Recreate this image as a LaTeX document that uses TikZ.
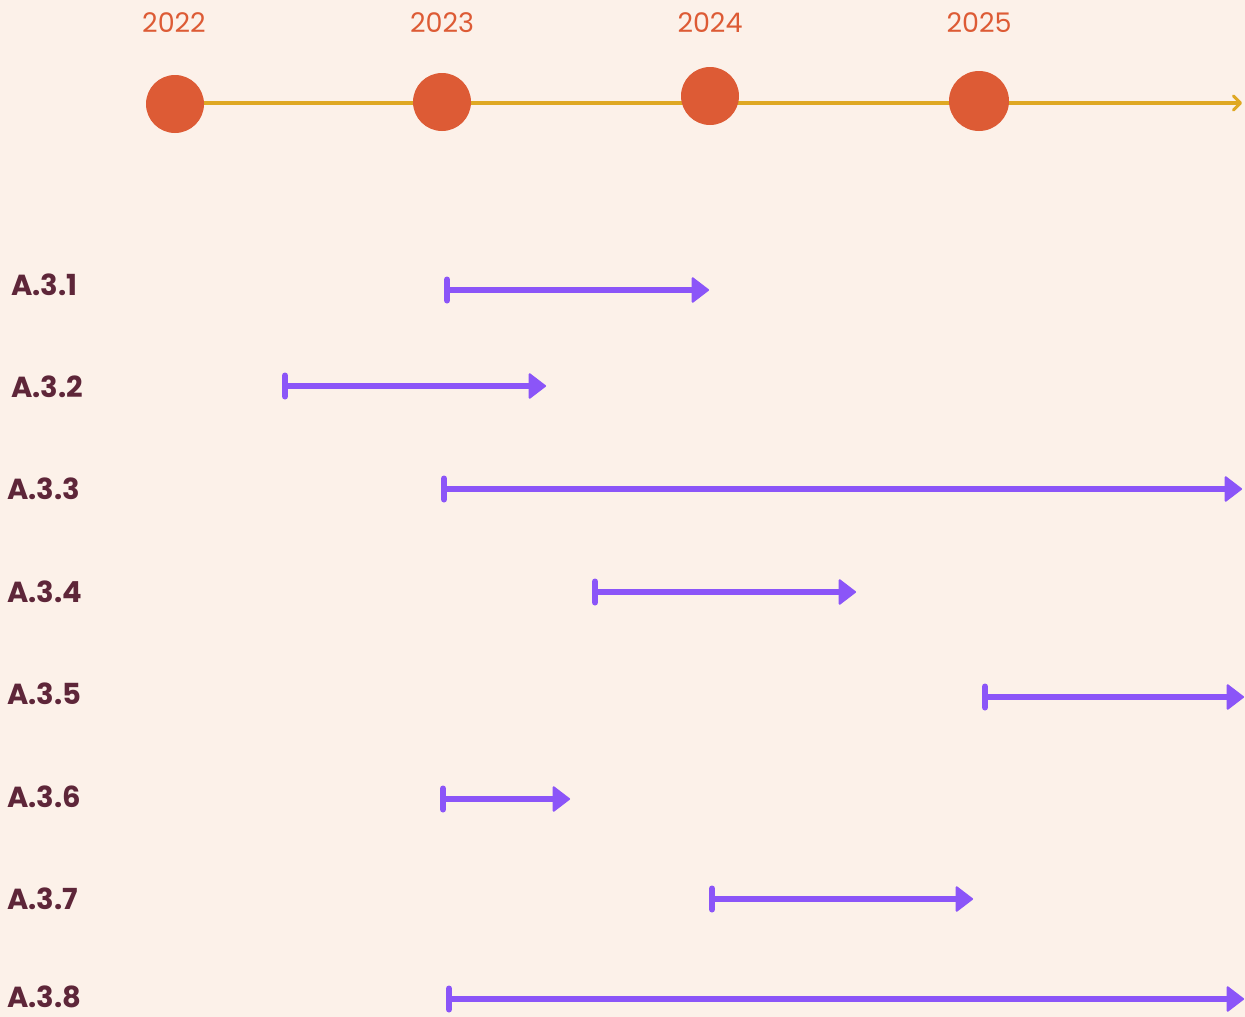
\documentclass[tikz,border=0pt]{standalone}
\usepackage{fontspec}
\setmainfont{Poppins}
\usetikzlibrary{arrows.meta,backgrounds}
\definecolor{bgc}{HTML}{FCF1E9}
\definecolor{dot}{HTML}{DD5B35}
\definecolor{gold}{HTML}{DFA823}
\definecolor{purp}{HTML}{8B55F8}
\definecolor{lab}{HTML}{5E2639}
\tikzset{
  yeardot/.style={circle,fill=dot,minimum size=#1,inner sep=0pt},
  yearlabel/.style={text=dot,font=\fontsize{27}{30}\selectfont,inner sep=0pt},
  rowlabel/.style={text=lab,font=\fontsize{29}{32}\selectfont\bfseries,inner sep=0pt,anchor=west},
  bararrow/.style={draw=purp,line width=6pt,{Bar[width=21pt,line width=6pt,round]}-{Triangle[length=18pt,width=27pt,round,line width=2pt]}},
  timeline/.style={draw=gold,line width=3.5pt,-{Straight Barb[length=7pt,width=14pt,line width=3pt,round]}}
}
\begin{document}
\begin{tikzpicture}[x=1pt,y=-1pt]
\useasboundingbox (0,0) rectangle (1245,1017);
% year dots
\node[yeardot=58pt] (d22) at (175,104) {};
\node[yeardot=58pt] (d23) at (442,102) {};
\node[yeardot=58pt] (d24) at (710,96) {};
\node[yeardot=60pt] (d25) at (979,101) {};
\coordinate (tend) at (1242,103);
\coordinate (tstart) at (175,103);
\begin{scope}[on background layer]
\fill[bgc] (0,0) rectangle (1245,1017);
\draw[timeline] (tstart) -- (tend);
\end{scope}
% year labels
\node[yearlabel] (y22) at (174,23) {2022};
\node[yearlabel] (y23) at (442,23) {2023};
\node[yearlabel] (y24) at (710,23) {2024};
\node[yearlabel] (y25) at (979,23) {2025};
% row labels
\node[rowlabel] (l1) at (11,285) {A.3.1};
\node[rowlabel] (l2) at (11,387) {A.3.2};
\node[rowlabel] (l3) at (7,489) {A.3.3};
\node[rowlabel] (l4) at (7,592) {A.3.4};
\node[rowlabel] (l5) at (7,694) {A.3.5};
\node[rowlabel] (l6) at (7,797) {A.3.6};
\node[rowlabel] (l7) at (7,899) {A.3.7};
\node[rowlabel] (l8) at (7,997) {A.3.8};
% bars
\coordinate (s1) at (444,290); \coordinate (e1) at (709,290);
\coordinate (s2) at (282,386); \coordinate (e2) at (546,386);
\coordinate (s3) at (441,489); \coordinate (e3) at (1242,489);
\coordinate (s4) at (592,592); \coordinate (e4) at (856,592);
\coordinate (s5) at (982,697); \coordinate (e5) at (1244,697);
\coordinate (s6) at (440,799); \coordinate (e6) at (570,799);
\coordinate (s7) at (709,899); \coordinate (e7) at (973,899);
\coordinate (s8) at (446,999); \coordinate (e8) at (1244,999);
\foreach \i in {1,...,8} \draw[bararrow] (s\i) -- (e\i);
\end{tikzpicture}
\end{document}
